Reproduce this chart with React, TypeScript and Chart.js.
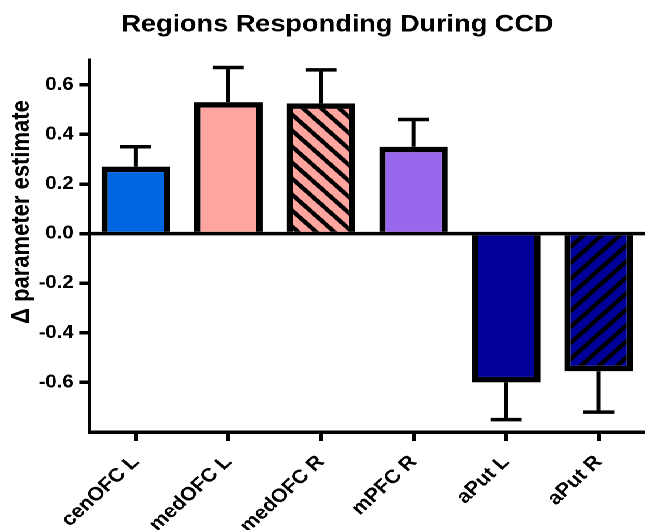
import React, { useEffect, useRef } from "react";
import { Chart, registerables } from "chart.js";

Chart.register(...registerables);

const TITLE = "Regions Responding During CCD";
const Y_TITLE = "Δ parameter estimate";
const categories = ["cenOFC L", "medOFC L", "medOFC R", "mPFC R", "aPut L", "aPut R"];
const values = [0.27, 0.53, 0.525, 0.35, -0.6, -0.555];
const errors = [0.08, 0.14, 0.135, 0.11, 0.15, 0.165];
const fillColors = ["#0066E0", "#FFA5A0", "#FFA5A0", "#9966EE", "#000099", "#000099"];
const hatches = ["none", "none", "back", "none", "none", "fwd"];
const yTicks = [-0.6, -0.4, -0.2, 0, 0.2, 0.4, 0.6];
const Y_MIN = -0.8;
const Y_MAX = 0.7;

const W = 571;
const H = 530;
const SX = 645 / W;
const FONT = "'Liberation Sans', Arial, Helvetica, sans-serif";
const CAP = 13.7;

function makePattern(color: string, dir: string) {
  const T = 16;
  const R = 2;
  const c = document.createElement("canvas");
  c.width = T * R;
  c.height = T * R;
  const g = c.getContext("2d")!;
  g.scale(R, R);
  g.fillStyle = color;
  g.fillRect(0, 0, T, T);
  g.strokeStyle = "#000";
  g.lineWidth = 4;
  g.lineCap = "square";
  g.beginPath();
  for (let k = -1; k <= 1; k++) {
    if (dir === "back") {
      g.moveTo(k * T, 0);
      g.lineTo(k * T + T, T);
    } else {
      g.moveTo(k * T, T);
      g.lineTo(k * T + T, 0);
    }
  }
  g.stroke();
  const p = g.createPattern(c, "repeat")!;
  p.setTransform(new DOMMatrix().scale(1 / R));
  return p;
}

const decor = {
  id: "decor",
  afterDatasetsDraw(chart: any) {
    const { ctx, chartArea, scales } = chart;
    const y = scales.y;
    ctx.save();
    ctx.strokeStyle = "#000";
    ctx.lineWidth = 3.5;
    const y0 = y.getPixelForValue(0);
    ctx.beginPath();
    ctx.moveTo(chartArea.left, y0);
    ctx.lineTo(chartArea.right, y0);
    ctx.stroke();
    const meta = chart.getDatasetMeta(0);
    meta.data.forEach((bar: any, i: number) => {
      const v = values[i];
      const e = errors[i];
      const end = v >= 0 ? v + e : v - e;
      const px = bar.x;
      const pv = y.getPixelForValue(v);
      const pe = y.getPixelForValue(end);
      ctx.beginPath();
      ctx.moveTo(px, pv);
      ctx.lineTo(px, pe);
      ctx.moveTo(px - CAP, pe);
      ctx.lineTo(px + CAP, pe);
      ctx.stroke();
    });
    ctx.restore();
  },
  afterDraw(chart: any) {
    const { ctx } = chart;
    ctx.save();
    ctx.fillStyle = "#000";
    ctx.font = `bold 24px ${FONT}`;
    ctx.textAlign = "center";
    ctx.textBaseline = "alphabetic";
    ctx.fillText(TITLE, 298.7, 31.7);
    ctx.translate(19.5, 212);
    ctx.rotate(-Math.PI / 2);
    ctx.font = `bold 22px ${FONT}`;
    ctx.textBaseline = "middle";
    ctx.fillText(Y_TITLE, 0, 0);
    ctx.restore();
  },
};

export default function App() {
  const ref = useRef<HTMLCanvasElement | null>(null);
  useEffect(() => {
    if (!ref.current) return;
    const bg = fillColors.map((c, i) => (hatches[i] === "none" ? c : makePattern(c, hatches[i])));
    const chart = new Chart(ref.current, {
      type: "bar",
      data: {
        labels: categories,
        datasets: [
          {
            data: values,
            backgroundColor: bg as any,
            borderColor: "#000",
            borderWidth: 5.5,
            borderSkipped: "start",
            barPercentage: 0.74,
            categoryPercentage: 1,
          },
        ],
      },
      options: {
        responsive: false,
        animation: false,
        devicePixelRatio: 2,
        layout: { padding: { top: 60, left: 0, right: 0, bottom: 0 } },
        plugins: {
          legend: { display: false },
          title: { display: false },
          tooltip: { enabled: false },
        },
        scales: {
          x: {
            grid: {
              display: true,
              drawOnChartArea: false,
              drawTicks: true,
              tickLength: 9,
              lineWidth: 3.5,
              color: "#000",
              offset: false,
            },
            border: { display: true, color: "#000", width: 3.5 },
            ticks: {
              color: "#000",
              font: { family: FONT, size: 19, weight: "bold" },
              minRotation: 46,
              maxRotation: 46,
              padding: 10,
              autoSkip: false,
            },
            afterFit: (s: any) => {
              s.height = 98;
            },
          },
          y: {
            min: Y_MIN,
            max: Y_MAX,
            afterBuildTicks: (s: any) => {
              s.ticks = yTicks.map((v) => ({ value: v }));
            },
            grid: {
              drawOnChartArea: false,
              drawTicks: true,
              tickLength: 9,
              lineWidth: 3.5,
              color: "#000",
            },
            border: { display: true, color: "#000", width: 3.5 },
            ticks: {
              color: "#000",
              font: { family: FONT, size: 18, weight: "bold" },
              padding: 5,
              callback: (v: any) => Number(v).toFixed(1),
            },
            afterFit: (s: any) => {
              s.width = 79.2;
            },
          },
        },
      } as any,
      plugins: [decor],
    });
    return () => chart.destroy();
  }, []);
  return (
    <div
      style={{
        position: "absolute",
        left: 0,
        top: 0,
        width: W,
        height: H,
        transform: `scaleX(${SX})`,
        transformOrigin: "0 0",
        background: "#fff",
      }}
    >
      <canvas ref={ref} width={W} height={H} style={{ display: "block" }} />
    </div>
  );
}
